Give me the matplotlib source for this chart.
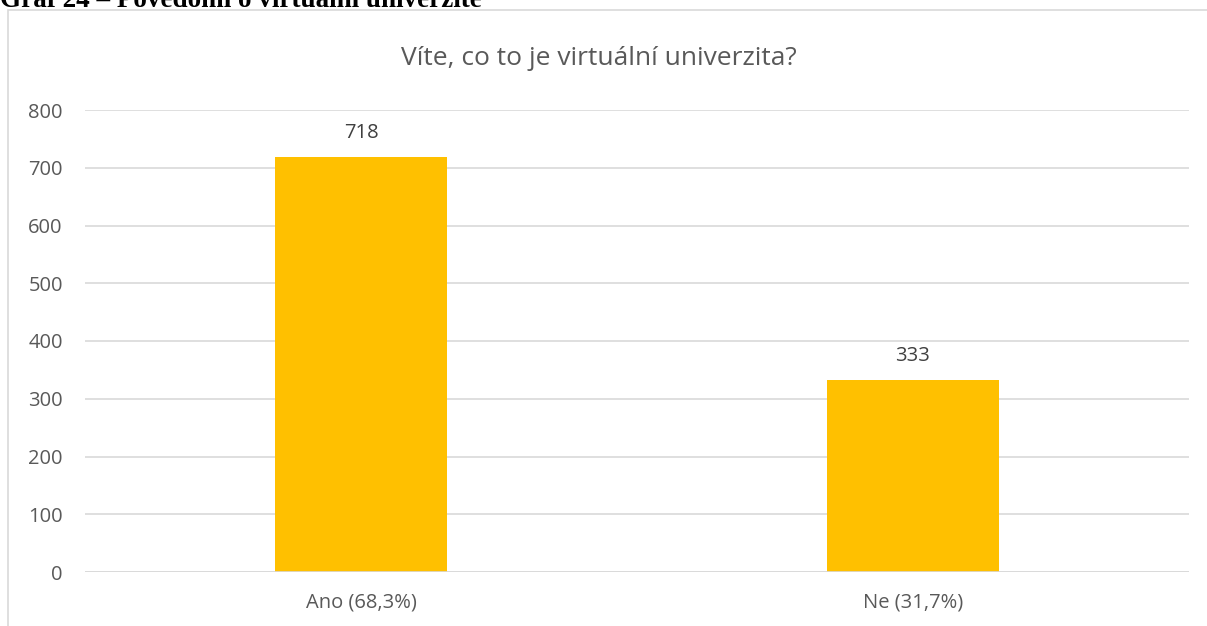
import matplotlib
matplotlib.use("Agg")
import matplotlib.pyplot as plt
from matplotlib.patches import Rectangle

categories = ["Ano (68,3%)", "Ne (31,7%)"]
values = [718, 333]
yticks = [0, 100, 200, 300, 400, 500, 600, 700, 800]
title = "Víte, co to je virtuální univerzita?"
caption = "Graf 24 – Povědomí o virtuální univerzitě"

W, H = 1207, 626
fig = plt.figure(figsize=(W / 100, H / 100), dpi=100)
fig.patch.set_facecolor("white")

# chart frame (partially cut off right/bottom)
fig.patches.append(Rectangle((8 / W, -0.1), 1.2, (H - 10) / H + 0.1,
                             transform=fig.transFigure, fill=False,
                             edgecolor="#D9D9D9", linewidth=1.2, clip_on=False))

# caption, cut off at the top (as in the reference)
fig.text(0.0, 1 - 7 / H, caption, family="Liberation Serif", fontweight="bold",
         fontsize=19.5, color="black", ha="left", va="baseline")

left, right = 85 / W, 1189 / W
top, bottom = 1 - 110 / H, 1 - 572 / H
ax = fig.add_axes([left, bottom, right - left, top - bottom])

font = "Open Sans"
gray = "#595959"
fs = 14.5
x = list(range(len(categories)))
bars = ax.bar(x, values, width=0.313, color="#FFC000", zorder=3)
ax.set_xlim(-0.5, len(categories) - 0.5)
ax.set_ylim(0, 800)
ax.set_yticks(yticks)
ax.set_yticklabels([str(v) for v in yticks], family=font, fontsize=fs, color=gray)
ax.set_xticks(x)
ax.set_xticklabels(categories, family=font, fontsize=fs, color=gray)
ax.tick_params(axis="both", length=0)
ax.tick_params(axis="y", pad=16)
ax.tick_params(axis="x", pad=15)
ax.grid(axis="y", color="#D9D9D9", linewidth=1.2, zorder=0)
for s in ax.spines.values():
    s.set_visible(False)
ax.axhline(0, color="#D9D9D9", linewidth=1.2, zorder=4)

for xi, v in zip(x, values):
    ax.annotate(str(v), (xi, v), xytext=(0, 10), textcoords="offset points",
                ha="center", va="bottom", family=font, fontsize=fs, color="#404040")

fig.text(0.5 - 5 / W, 1 - 65 / H, title, family=font, fontsize=19, color=gray,
         ha="center", va="baseline")

fig.savefig("out.png", dpi=100)
